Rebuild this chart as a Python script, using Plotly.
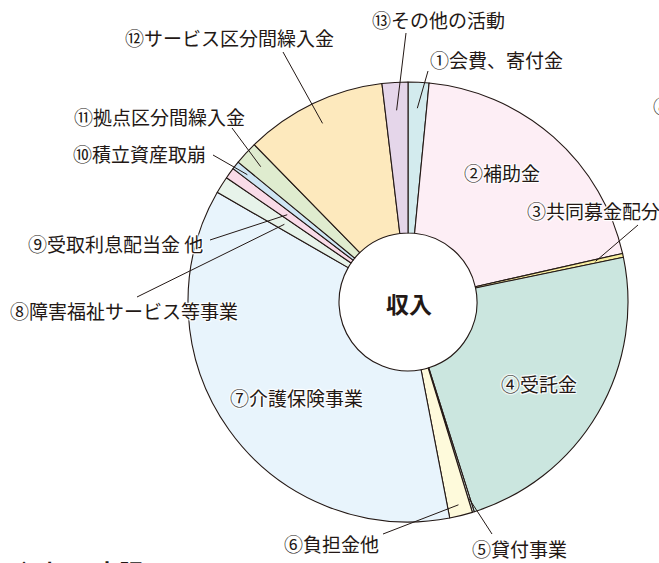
import math
import plotly.graph_objects as go

# ---- data (share of income, %) ----
labels = ["①会費、寄付金", "②補助金", "③共同募金配分金", "④受託金", "⑤貸付事業",
          "⑥負担金他", "⑦介護保険事業", "⑧障害福祉サービス等事業", "⑨受取利息配当金 他",
          "⑩積立資産取崩", "⑪拠点区分間繰入金", "⑫サービス区分間繰入金", "⑬その他の活動"]
values = [1.53, 19.92, 0.28, 23.39, 0.14, 1.69, 36.33, 1.25, 0.81, 0.60, 1.72, 10.42, 1.89]
colors = ["#d3ebee", "#fdeef5", "#f8eea0", "#cbe6df", "#e3f1ec", "#fefadb", "#e8f4fc",
          "#e7f3ea", "#f9dbe8", "#cfe6f4", "#dfeccf", "#fde9bd", "#e5d6ea"]
label_text = ["①会費、寄付金", "②補助金", "③共同募金配分", "④受託金", "⑤貸付事業",
              "⑥負担金他", "⑦介護保険事業", "⑧障害福祉サービス等事業", "⑨受取利息配当金 他",
              "⑩積立資産取崩", "⑪拠点区分間繰入金", "⑫サービス区分間繰入金", "⑬その他の活動"]
center_text = "収入"

# ---- layout (pixels) ----
W, H = 659, 563
CX, CY, R = 408, 302, 220
HOLE = 69 / 220
INK = "#231815"

# label placement: (x, y, xanchor, leader start px or None, leader radius px)
place = [
    (496, 60, "center", (428, 71), 194),
    (502, 172, "center", None, None),
    (525, 210, "left", (638, 225), 192),
    (539, 383, "center", None, None),
    (519, 548, "center", (492, 534), 206),
    (331, 543, "center", (383, 534), 209),
    (296, 397, "center", None, None),
    (124, 310, "center", (137, 297), 146),
    (115, 243, "center", (210, 240), 149),
    (139, 154, "center", (213, 155), 205),
    (159, 116, "center", (232, 128), 200),
    (229, 37, "center", (283, 52), 198),
    (438, 20, "center", (406, 33), 192),
]

def px(x):
    return x / W

def py(y):
    return 1 - y / H

total = sum(values)
mids = []
acc = 0.0
for v in values:
    mids.append((acc + v / 2) / total * 360.0)
    acc += v

fig = go.Figure(go.Pie(
    labels=labels, values=values, sort=False, direction="clockwise", rotation=0,
    hole=HOLE, textinfo="none", hoverinfo="label+percent",
    marker=dict(colors=colors, line=dict(color=INK, width=1.1)),
    domain=dict(x=[px(CX - R), px(CX + R)], y=[py(CY + R), py(CY - R)]),
    showlegend=False,
))

halo = "1px 1px 1px #fff, -1px -1px 1px #fff, 1px -1px 1px #fff, -1px 1px 1px #fff, 0 0 2px #fff"
font = dict(family="Noto Sans CJK JP", size=19, color=INK, shadow=halo)

shapes = []
annotations = []
for i, (lx, ly, anc, start, rad) in enumerate(place):
    annotations.append(dict(x=px(lx), y=py(ly), xref="paper", yref="paper", text=label_text[i],
                            showarrow=False, xanchor=anc, yanchor="middle", font=font))
    if start is not None:
        th = math.radians(mids[i])
        ex = CX + rad * math.sin(th)
        ey = CY - rad * math.cos(th)
        shapes.append(dict(type="line", xref="paper", yref="paper",
                           x0=px(start[0]), y0=py(start[1]), x1=px(ex), y1=py(ey),
                           line=dict(color=INK, width=1)))

annotations.append(dict(x=px(CX + 1), y=py(CY + 1), xref="paper", yref="paper", text="<b>" + center_text + "</b>",
                        showarrow=False, font=dict(family="Noto Sans CJK JP", size=23, color=INK)))
annotations.append(dict(x=px(651), y=py(105), xref="paper", yref="paper", text="⑧",
                        showarrow=False, xanchor="left", yanchor="middle", font=font))
annotations.append(dict(x=px(10), y=py(552), xref="paper", yref="paper", text="<b>◆ 収入 内訳</b>",
                        showarrow=False, xanchor="left", yanchor="top",
                        font=dict(family="Noto Sans CJK JP", size=24, color=INK)))

fig.update_layout(width=W, height=H, autosize=False, margin=dict(l=0, r=0, t=0, b=0),
                  paper_bgcolor="white", plot_bgcolor="white",
                  shapes=shapes, annotations=annotations)
fig.write_html("out.html", config={"displayModeBar": False},
               post_script="document.body.style.margin='0';document.body.style.overflow='hidden';")
